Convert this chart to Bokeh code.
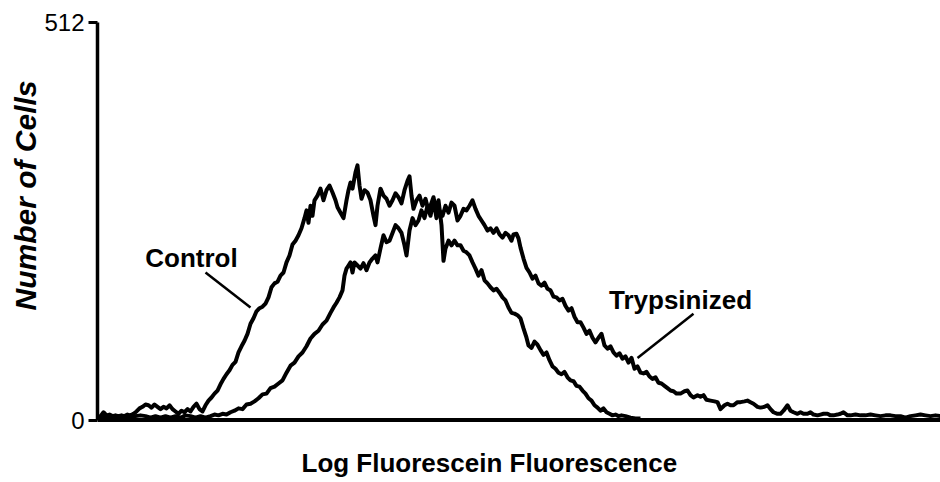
from bokeh.plotting import figure
from bokeh.models import Range1d, FixedTicker, Label, ColumnDataSource, Title, Span
from bokeh.embed import file_html
from bokeh.resources import INLINE

# ---- data (channel, number of cells) ----
control_x = [0, 3, 6, 9, 12, 15, 18, 21, 24, 27, 30, 33, 36, 39, 42, 45, 48, 51, 54, 57, 60, 63, 66, 69, 72, 75, 78, 81, 84, 87, 90, 93, 96, 99, 102, 105, 108, 111, 114, 117, 120, 123, 126, 129, 132, 135, 138, 141, 144, 147, 150, 153, 156, 159, 162, 165, 168, 171, 174, 177, 180, 183, 186, 189, 192, 195, 198, 201, 204, 207, 209, 211, 213, 215, 217, 220, 223, 226, 229, 232, 235, 238, 240, 243, 246, 249, 251, 253, 255, 258, 260, 262, 264, 267, 270, 273, 276, 278, 280, 283, 286, 289, 292, 295, 298, 301, 304, 307, 310, 312, 314, 316, 319, 322, 325, 328, 331, 333, 336, 339, 341, 344, 346, 348, 351, 354, 357, 360, 363, 366, 369, 372, 375, 378, 381, 384, 387, 390, 393, 396, 399, 402, 405, 408, 411, 414, 417, 420, 423, 426, 429, 431, 434, 437, 440, 443, 446, 449, 452, 455, 458, 461, 464, 467, 470, 473, 476, 479, 482, 485, 488, 491, 494, 497, 500, 503, 506, 509, 512, 515, 518, 521, 524, 528, 533, 538, 543]
control_y = [3, 5, 10, 6, 7, 5, 6, 5, 6, 5, 7, 6, 8, 11, 15, 17, 20, 19, 16, 20, 17, 14, 17, 15, 19, 14, 11, 8, 12, 10, 14, 11, 17, 21, 14, 11, 19, 25, 29, 34, 38, 46, 53, 59, 64, 71, 75, 87, 95, 102, 111, 124, 131, 140, 144, 146, 150, 158, 171, 176, 178, 186, 190, 203, 212, 226, 231, 238, 247, 260, 270, 254, 276, 263, 283, 289, 298, 283, 296, 302, 293, 283, 274, 267, 260, 283, 296, 306, 298, 319, 328, 302, 285, 296, 293, 283, 263, 251, 276, 298, 289, 285, 276, 283, 292, 287, 279, 296, 308, 314, 289, 272, 283, 289, 276, 285, 270, 276, 287, 267, 283, 251, 205, 221, 231, 225, 231, 225, 225, 218, 216, 212, 203, 195, 186, 193, 180, 176, 171, 167, 169, 164, 158, 154, 145, 138, 137, 135, 131, 118, 106, 96, 93, 101, 97, 90, 84, 87, 77, 69, 66, 61, 59, 62, 55, 51, 50, 44, 43, 38, 34, 28, 25, 19, 16, 12, 15, 10, 8, 6, 7, 5, 6, 5, 3, 2, 2]

tryp_x = [0, 3, 8, 13, 18, 23, 28, 33, 38, 43, 48, 53, 58, 63, 68, 73, 78, 83, 88, 93, 98, 103, 108, 113, 117, 121, 125, 129, 133, 137, 141, 145, 149, 153, 157, 161, 165, 169, 173, 177, 181, 185, 189, 193, 197, 201, 205, 209, 213, 217, 221, 225, 229, 233, 236, 239, 242, 245, 247, 249, 251, 253, 255, 257, 260, 263, 266, 269, 272, 275, 278, 280, 283, 286, 289, 292, 295, 298, 301, 304, 307, 309, 312, 315, 318, 321, 324, 327, 330, 333, 336, 339, 342, 345, 348, 351, 354, 357, 360, 363, 366, 369, 372, 375, 378, 381, 384, 387, 390, 393, 396, 399, 402, 405, 408, 411, 414, 416, 419, 421, 423, 426, 429, 432, 435, 438, 441, 444, 447, 450, 453, 456, 459, 462, 465, 468, 471, 474, 477, 480, 483, 486, 489, 492, 495, 498, 501, 504, 507, 510, 513, 516, 519, 522, 525, 528, 531, 534, 537, 540, 543, 546, 549, 552, 555, 558, 561, 564, 567, 570, 573, 576, 579, 583, 587, 590, 593, 596, 600, 603, 606, 609, 613, 617, 620, 623, 627, 630, 633, 636, 640, 643, 647, 650, 653, 656, 660, 663, 667, 670, 673, 676, 680, 683, 686, 690, 693, 696, 700, 703, 706, 710, 713, 716, 720, 723, 726, 730, 733, 736, 740, 743, 746, 750, 753, 758, 763, 768, 773, 778, 783, 788, 793, 798, 803, 808, 813, 818, 823, 828, 833, 838, 843]
tryp_y = [2, 3, 5, 3, 5, 3, 5, 3, 5, 6, 5, 3, 5, 3, 5, 3, 5, 3, 6, 5, 3, 5, 3, 5, 7, 6, 8, 7, 10, 12, 15, 14, 20, 21, 24, 28, 33, 34, 41, 43, 47, 51, 61, 70, 74, 82, 87, 95, 105, 111, 115, 123, 128, 138, 145, 151, 158, 167, 186, 195, 199, 203, 190, 203, 199, 195, 202, 193, 203, 208, 212, 203, 221, 238, 229, 231, 241, 251, 247, 241, 225, 212, 244, 260, 251, 257, 270, 260, 276, 263, 283, 260, 270, 263, 276, 267, 280, 276, 257, 263, 272, 270, 276, 283, 272, 263, 257, 251, 244, 247, 241, 247, 239, 235, 241, 238, 231, 239, 240, 234, 222, 208, 196, 190, 182, 186, 176, 173, 177, 169, 167, 159, 158, 154, 156, 147, 141, 144, 133, 126, 126, 119, 111, 115, 106, 100, 106, 111, 96, 92, 95, 87, 83, 86, 79, 82, 74, 80, 66, 69, 61, 60, 62, 56, 53, 55, 48, 47, 44, 41, 38, 37, 34, 34, 37, 38, 32, 29, 32, 30, 32, 26, 25, 24, 23, 14, 19, 21, 19, 19, 23, 23, 24, 25, 23, 21, 17, 16, 17, 19, 14, 10, 8, 8, 12, 19, 12, 10, 8, 10, 8, 8, 10, 7, 6, 7, 8, 8, 6, 6, 7, 8, 10, 6, 6, 7, 6, 6, 7, 6, 5, 6, 6, 5, 5, 3, 5, 6, 7, 6, 5, 6, 5]

y_ticks = [0, 512]
x_title = "Log Fluorescein Fluorescence"
y_title = "Number of Cells"

# annotation anchors (data units)
control_label = ("Control", 94, 209)
control_leader_x = [108, 153]
control_leader_y = [190, 145]
tryp_label = ("Trypsinized", 583, 155)
tryp_leader_x = [596, 540]
tryp_leader_y = [137, 80]
x_title_pos = (204, -55)

FONT = "Liberation Sans"

# frame extends below the zero line so the x title can sit inside it
p = figure(width=940, height=480, output_backend="svg", toolbar_location=None,
           x_range=Range1d(0, 843), y_range=Range1d(-77.9, 512),
           min_border_left=97, min_border_right=0, min_border_top=22, min_border_bottom=0)
p.outline_line_color = None
p.xgrid.visible = False
p.ygrid.visible = False
p.background_fill_color = "white"

# y axis (line only between 0 and 512)
p.yaxis.ticker = FixedTicker(ticks=y_ticks)
p.yaxis.bounds = (0, 512)
p.yaxis.axis_line_width = 3.5
p.yaxis.axis_line_color = "black"
p.yaxis.major_tick_line_width = 3
p.yaxis.major_tick_line_color = "black"
p.yaxis.major_tick_out = 9
p.yaxis.major_tick_in = 0
p.yaxis.minor_tick_line_color = None
p.yaxis.major_label_text_font = FONT
p.yaxis.major_label_text_font_size = "24px"
p.yaxis.major_label_text_color = "black"
p.yaxis.major_label_standoff = 4

# x axis drawn as the zero baseline
p.xaxis.visible = False
p.add_layout(Span(location=0, dimension="width", line_color="black", line_width=4))

src_c = ColumnDataSource(dict(x=control_x, y=control_y))
src_t = ColumnDataSource(dict(x=tryp_x, y=tryp_y))
p.line("x", "y", source=src_t, line_color="black", line_width=4, line_join="round")
p.line("x", "y", source=src_c, line_color="black", line_width=4, line_join="round")

p.line(control_leader_x, control_leader_y, line_color="black", line_width=2.5)
p.line(tryp_leader_x, tryp_leader_y, line_color="black", line_width=2.5)

for txt, lx, ly in [control_label, tryp_label]:
    p.add_layout(Label(x=lx, y=ly, text=txt, text_font=FONT, text_font_size="26px",
                       text_font_style="bold", text_align="center", text_baseline="middle",
                       text_color="black"))

p.add_layout(Label(x=x_title_pos[0], y=x_title_pos[1], text=x_title, text_font=FONT,
                   text_font_size="26px", text_font_style="bold", text_align="left",
                   text_baseline="alphabetic", text_color="black"))
p.add_layout(Title(text=y_title, align="left", offset=170, text_font=FONT,
                   text_font_size="30px", text_font_style="bold italic", text_color="black",
                   standoff=0), "left")

open("out.html", "w").write(file_html(p, INLINE))
